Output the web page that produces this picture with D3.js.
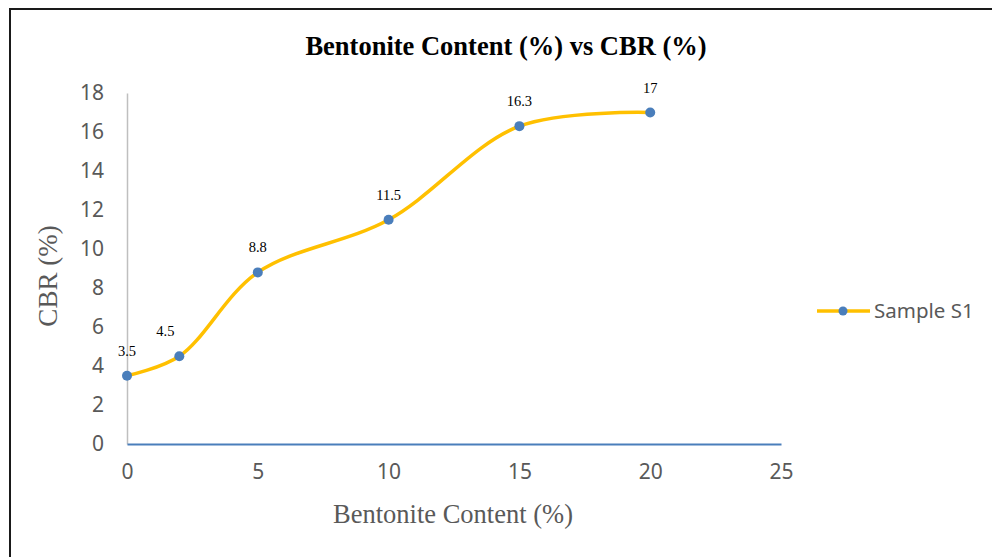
<html>
<head>
<script src="https://d3js.org/d3.v7.min.js"></script>
<style>
  body { margin: 0; background: #fff; }
</style>
</head>
<body>
<script>
    // chart values
    let bentonite = [0, 2, 5, 10, 15, 20];
    let cbr = [3.5, 4.5, 8.8, 11.5, 16.3, 17];
    let xTicks = [0, 5, 10, 15, 20, 25];
    let yTicks = [0, 2, 4, 6, 8, 10, 12, 14, 16, 18];
    let seriesName = "Sample S1";

    let svg = d3.select("body").append("svg")
        .attr("width", 992)
        .attr("height", 557);

    svg.append("rect")
        .attr("x", 10).attr("y", 9)
        .attr("width", 1000).attr("height", 600)
        .attr("fill", "none")
        .attr("stroke", "#1a1a1a")
        .attr("stroke-width", 2);

    let x = d3.scaleLinear().domain([0, 25]).range([127, 781]);
    let y = d3.scaleLinear().domain([0, 18]).range([444, 93]);

    // title
    svg.append("text")
        .attr("x", 506).attr("y", 55)
        .attr("text-anchor", "middle")
        .style("font-family", "'Liberation Serif', 'Times New Roman', serif")
        .style("font-weight", "bold")
        .style("font-size", "26.5px")
        .text("Bentonite Content (%) vs CBR (%)");

    // y axis
    let yAxis = svg.append("g")
        .attr("transform", "translate(127,0)")
        .call(d3.axisLeft(y).tickValues(yTicks).tickSize(0).tickPadding(23));
    yAxis.select(".domain").attr("stroke", "#bfbfbf").attr("stroke-width", 1.5);
    yAxis.selectAll("text")
        .attr("fill", "#595959")
        .style("font-family", "'Noto Sans', sans-serif")
        .style("font-size", "21px");

    // x axis
    let xAxis = svg.append("g")
        .attr("transform", "translate(0,444)")
        .call(d3.axisBottom(x).tickValues(xTicks).tickSize(0).tickPadding(20));
    xAxis.select(".domain").attr("stroke", "#4a7ebb").attr("stroke-width", 2);
    xAxis.selectAll("text")
        .attr("fill", "#595959")
        .style("font-family", "'Noto Sans', sans-serif")
        .style("font-size", "21px");

    // axis titles
    svg.append("text")
        .attr("x", 453).attr("y", 523)
        .attr("text-anchor", "middle")
        .attr("fill", "#595959")
        .style("font-family", "'Liberation Serif', 'Times New Roman', serif")
        .style("font-size", "26.5px")
        .text("Bentonite Content (%)");

    svg.append("text")
        .attr("transform", "translate(57,276) rotate(-90)")
        .attr("text-anchor", "middle")
        .attr("fill", "#595959")
        .style("font-family", "'Liberation Serif', 'Times New Roman', serif")
        .style("font-size", "27px")
        .text("CBR (%)");

    let points = bentonite.map((b, i) => ({ x: b, y: cbr[i] }));

    let line = d3.line()
        .x(d => x(d.x))
        .y(d => y(d.y))
        .curve(d3.curveCatmullRom.alpha(0.5));

    svg.append("path")
        .datum(points)
        .attr("d", line)
        .attr("fill", "none")
        .attr("stroke", "#ffc000")
        .attr("stroke-width", 3.5);

    svg.selectAll(".pt")
        .data(points)
        .enter().append("circle")
        .attr("cx", d => x(d.x))
        .attr("cy", d => y(d.y))
        .attr("r", 5)
        .attr("fill", "#4a7ebb");

    //data labels
    svg.selectAll(".lbl")
        .data(points)
        .enter().append("text")
        .attr("x", d => x(d.x) - (d.x == 2 ? 14 : 0))
        .attr("y", d => y(d.y) - 20)
        .attr("text-anchor", "middle")
        .style("font-family", "'Liberation Serif', 'Times New Roman', serif")
        .style("font-size", "14.5px")
        .text(d => d.y);

    // legend
    svg.append("line")
        .attr("x1", 817).attr("x2", 870)
        .attr("y1", 311).attr("y2", 311)
        .attr("stroke", "#ffc000")
        .attr("stroke-width", 3.5);
    svg.append("circle")
        .attr("cx", 843).attr("cy", 311).attr("r", 4.5)
        .attr("fill", "#4a7ebb");
    svg.append("text")
        .attr("x", 874).attr("y", 318)
        .attr("fill", "#595959")
        .style("font-family", "'Noto Sans', sans-serif")
        .style("font-size", "20.5px")
        .text(seriesName);
</script>
</body>
</html>
